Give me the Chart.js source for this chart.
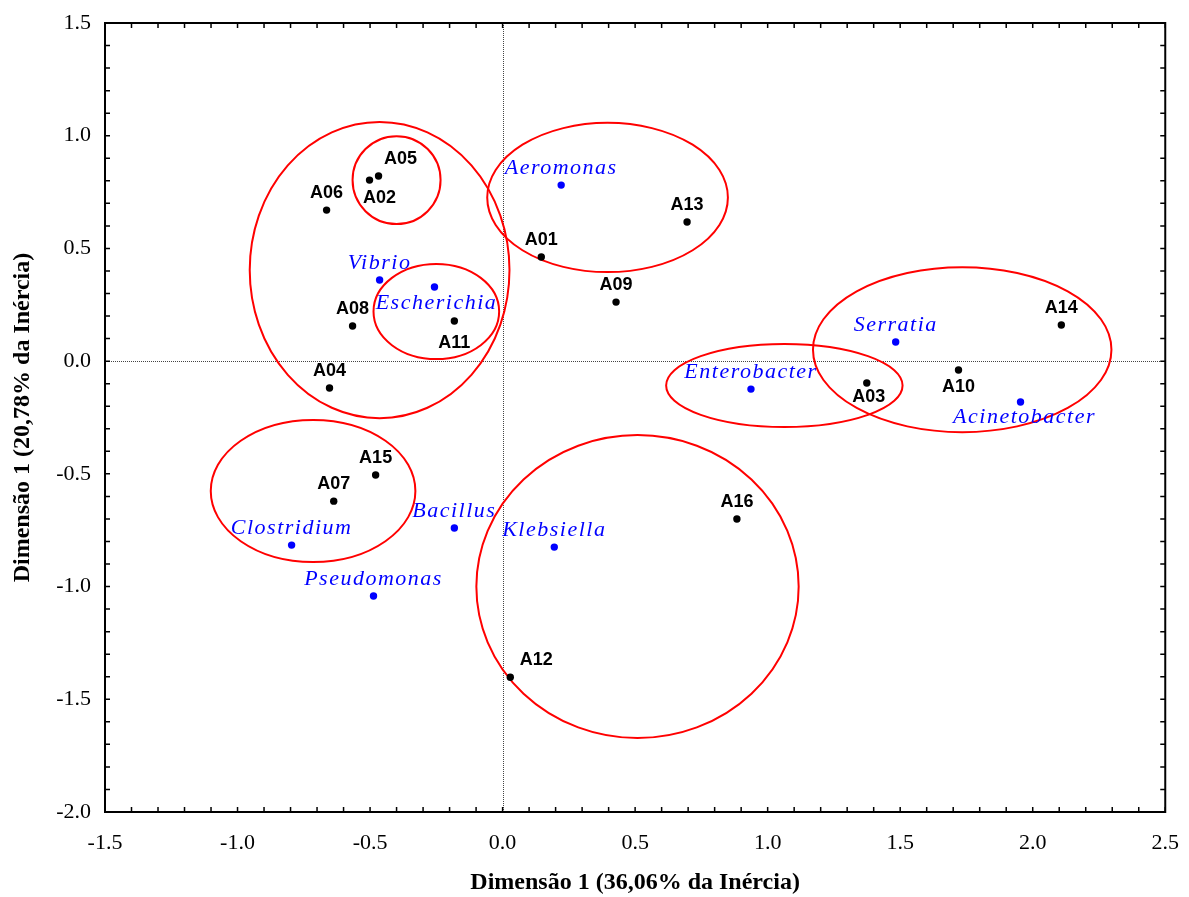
<!DOCTYPE html>
<html>
<head>
<meta charset="utf-8">
<script src="https://cdn.jsdelivr.net/npm/chart.js@4.4.1/dist/chart.umd.min.js"></script>
<style>
body{margin:0;background:#fff}
#box{width:1189px;height:897px}
</style>
</head>
<body>
<div id="box"><canvas id="grafico"></canvas></div>
<script>
// amostras (pontos pretos)
var amostras = ['A01','A02','A03','A04','A05','A06','A07','A08','A09','A10','A11','A12','A13','A14','A15','A16'];
var amostraX = [0.146,-0.502,1.374,-0.653,-0.468,-0.664,-0.637,-0.566,0.428,1.720,-0.182,0.029,0.696,2.108,-0.479,0.884];
var amostraY = [0.462,0.803,-0.097,-0.119,0.821,0.670,-0.621,0.156,0.262,-0.039,0.178,-1.402,0.617,0.160,-0.505,-0.700];

// generos (pontos azuis)
var generos = ['Aeromonas','Vibrio','Escherichia','Serratia','Enterobacter','Acinetobacter','Clostridium','Bacillus','Klebsiella','Pseudomonas'];
var generoX = [0.221,-0.464,-0.257,1.483,0.937,1.954,-0.796,-0.182,0.195,-0.487];
var generoY = [0.781,0.360,0.329,0.085,-0.124,-0.181,-0.816,-0.740,-0.825,-1.042];

// elipses dos grupos (centro e raios em unidades dos eixos)
var elipseX  = [-0.464,-0.400,-0.250,0.396,1.063,1.734,-0.715,0.509];
var elipseY  = [0.404,0.803,0.220,0.726,-0.108,0.051,-0.576,-1.000];
var elipseRX = [0.490,0.166,0.237,0.454,0.446,0.563,0.386,0.608];
var elipseRY = [0.657,0.195,0.211,0.331,0.184,0.366,0.315,0.672];

var tituloX = 'Dimensão 1 (36,06% da Inércia)';
var tituloY = 'Dimensão 1 (20,78% da Inércia)';

// onde escrever cada rotulo (deslocamento em px), padrao = acima
var posRotulo = {
  A05:[22,-17], A02:[10,18], A11:[0,22], A03:[2,14], A10:[0,17], A12:[26,-17],
  Escherichia:[2,16], Acinetobacter:[4,15]
};

function pontos(xs, ys) {
  var r = [];
  for (var i = 0; i < xs.length; i++) r.push({x: xs[i], y: ys[i]});
  return r;
}

var fundo = {
  id: 'fundo',
  beforeDatasetsDraw: function(chart) {
    var ctx = chart.ctx, a = chart.chartArea;
    var sx = chart.scales.x, sy = chart.scales.y;
    ctx.save();
    // linhas do zero
    ctx.strokeStyle = '#444';
    ctx.lineWidth = 1;
    ctx.setLineDash([1,1]);
    var x0 = Math.round(sx.getPixelForValue(0)) + 0.5;
    var y0 = Math.round(sy.getPixelForValue(0)) + 0.5;
    ctx.beginPath();
    ctx.moveTo(x0, a.top); ctx.lineTo(x0, a.bottom);
    ctx.moveTo(a.left, y0); ctx.lineTo(a.right, y0);
    ctx.stroke();
    ctx.setLineDash([]);
    // elipses
    ctx.strokeStyle = '#ff0000';
    ctx.lineWidth = 2;
    for (var i = 0; i < elipseX.length; i++) {
      var cx = sx.getPixelForValue(elipseX[i]);
      var cy = sy.getPixelForValue(elipseY[i]);
      var rx = Math.abs(sx.getPixelForValue(elipseX[i] + elipseRX[i]) - cx);
      var ry = Math.abs(sy.getPixelForValue(elipseY[i] + elipseRY[i]) - cy);
      ctx.beginPath();
      ctx.ellipse(cx, cy, rx, ry, 0, 0, Math.PI * 2);
      ctx.stroke();
    }
    ctx.restore();
  }
};

var rotulos = {
  id: 'rotulos',
  afterDatasetsDraw: function(chart) {
    var ctx = chart.ctx;
    ctx.save();
    ctx.textAlign = 'center';
    ctx.textBaseline = 'middle';
    chart.data.datasets.forEach(function(ds, k) {
      var meta = chart.getDatasetMeta(k);
      if (k == 0) {
        ctx.font = 'bold 18px "Liberation Sans", Arial, sans-serif';
        ctx.fillStyle = '#000';
        ctx.letterSpacing = '0px';
      } else {
        ctx.font = 'italic 22px "Liberation Serif", "Times New Roman", serif';
        ctx.fillStyle = '#0000ff';
        ctx.letterSpacing = '1.5px';
      }
      meta.data.forEach(function(el, i) {
        var nome = ds.nomes[i];
        var d = posRotulo[nome] || [0,-17];
        ctx.fillText(nome, el.x + d[0], el.y + d[1]);
      });
    });
    ctx.restore();
  }
};

var moldura = {
  id: 'moldura',
  afterDraw: function(chart) {
    var ctx = chart.ctx, a = chart.chartArea;
    var sx = chart.scales.x, sy = chart.scales.y;
    ctx.save();
    ctx.strokeStyle = '#000';
    ctx.lineWidth = 2;
    ctx.strokeRect(a.left, a.top, a.right - a.left, a.bottom - a.top);
    ctx.lineWidth = 1.5;
    ctx.beginPath();
    for (var i = -15; i <= 25; i++) {
      var px = sx.getPixelForValue(i / 10);
      ctx.moveTo(px, a.bottom); ctx.lineTo(px, a.bottom - 5);
      ctx.moveTo(px, a.top); ctx.lineTo(px, a.top + 5);
    }
    for (var j = -20; j <= 15; j++) {
      var py = sy.getPixelForValue(j / 10);
      ctx.moveTo(a.left, py); ctx.lineTo(a.left + 5, py);
      ctx.moveTo(a.right, py); ctx.lineTo(a.right - 5, py);
    }
    ctx.stroke();
    ctx.restore();
  }
};

var fonteTick = {family: '"Liberation Serif", "Times New Roman", serif', size: 22};
var fonteTitulo = {family: '"Liberation Serif", "Times New Roman", serif', size: 24, weight: 'bold'};

new Chart(document.getElementById('grafico'), {
  type: 'scatter',
  data: {
    datasets: [
      { nomes: amostras, data: pontos(amostraX, amostraY), backgroundColor: '#000', borderColor: '#000', pointRadius: 3.7, borderWidth: 0 },
      { nomes: generos, data: pontos(generoX, generoY), backgroundColor: '#0000ff', borderColor: '#0000ff', pointRadius: 3.7, borderWidth: 0 }
    ]
  },
  options: {
    responsive: true,
    maintainAspectRatio: false,
    animation: false,
    layout: { padding: {left: 0, right: 8, top: 23, bottom: 0} },
    plugins: { legend: {display: false}, tooltip: {enabled: false} },
    scales: {
      x: {
        type: 'linear', min: -1.5, max: 2.5,
        grid: {display: false}, border: {display: false},
        ticks: { stepSize: 0.5, color: '#000', font: fonteTick, padding: 10,
          callback: function(v) { return v.toFixed(1); } },
        title: { display: true, text: tituloX, color: '#000', font: fonteTitulo, padding: 0 },
        afterFit: function(s) { s.height = 85; }
      },
      y: {
        type: 'linear', min: -2.0, max: 1.5,
        grid: {display: false}, border: {display: false},
        ticks: { stepSize: 0.5, color: '#000', font: fonteTick, padding: 6,
          callback: function(v) { return v.toFixed(1); } },
        title: { display: true, text: tituloY, color: '#000', font: fonteTitulo, padding: 8 },
        afterFit: function(s) { s.width = 105; }
      }
    }
  },
  plugins: [fundo, rotulos, moldura]
});
</script>
</body>
</html>
